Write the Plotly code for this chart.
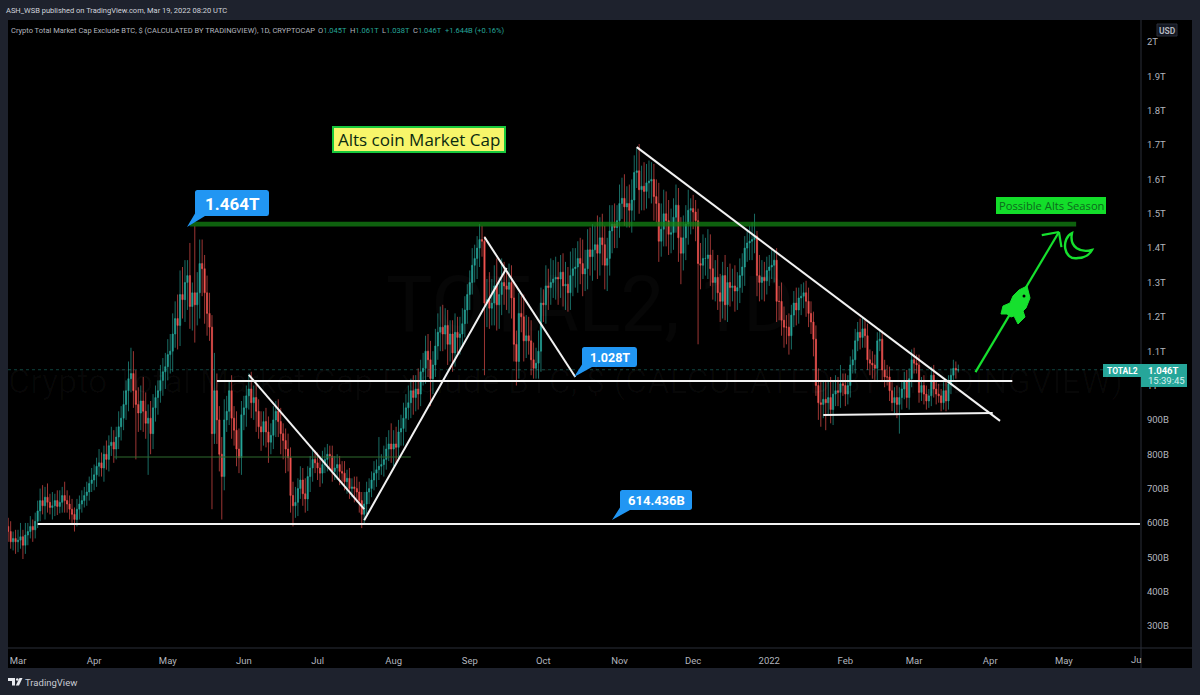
import pandas as pd
import plotly.graph_objects as go

# ---------- data (prices in billions of USD) ----------
first_open = 590
close_feb21 = [575,545,555]
close_mar21 = [545,550,560,535,565,575,590,580,605,635,665,650,675,660,645,650,665,648,660,680,665,655,640,625,610,640,655,665,680,690,715]
close_apr21 = [725,740,765,775,760,800,785,825,835,815,850,880,905,945,985,1020,1035,985,945,920,955,925,890,905,860,935,965,985,1015,1040]
close_may21 = [1055,1090,1100,1150,1195,1175,1265,1250,1300,1320,1230,1270,1235,1270,1355,1340,1270,1210,1170,860,985,900,800,735,900,925,985,905,870,815,790]
close_jun21 = [915,935,970,990,950,965,925,880,865,895,865,835,855,900,925,895,860,840,815,790,680,650,660,700,725,685,670,735,760,785]
close_jul21 = [775,760,745,770,785,800,795,750,760,770,750,745,720,730,700,705,700,690,665,625,655,690,700,725,745,755,765,770,785,815,830]
close_aug21 = [815,830,820,865,875,905,935,950,985,965,990,975,1040,1050,1100,1075,1020,1060,1115,1155,1170,1150,1175,1120,1150,1095,1155,1140,1150,1180,1220]
close_sep21 = [1265,1300,1350,1370,1400,1425,1420,1240,1250,1225,1240,1290,1235,1265,1300,1290,1280,1300,1255,1120,1070,1210,1200,1130,1145,1130,1075,1050,1065,1100]
close_oct21 = [1240,1235,1290,1285,1300,1310,1315,1310,1330,1290,1295,1270,1320,1340,1345,1370,1355,1325,1340,1395,1375,1395,1410,1385,1430,1410,1350,1370,1450,1470,1460]
close_nov21 = [1480,1530,1545,1520,1530,1510,1540,1620,1625,1570,1580,1565,1590,1595,1600,1550,1530,1420,1455,1500,1480,1440,1445,1490,1525,1430,1385,1430,1470,1510]
close_dec21 = [1515,1505,1480,1355,1350,1370,1370,1380,1340,1300,1315,1270,1245,1320,1235,1300,1285,1290,1275,1285,1320,1345,1400,1415,1420,1425,1435,1320,1300,1315,1305]
close_jan22 = [1335,1345,1350,1365,1245,1245,1190,1170,1170,1145,1205,1240,1220,1255,1260,1270,1245,1210,1185,1135,1000,950,945,960,950,965,930,975,985,980,1005]
close_feb22 = [1000,975,1000,1060,1075,1130,1155,1140,1165,1145,1075,1065,1060,1050,1130,1135,1045,1025,1025,985,950,965,945,965,990,1010,965,1020]
close_mar22 = [1075,1065,1060,980,1000,975,955,970,1030,990,975,970,950,985,955,1005,1030,1050,1045,1046]

upper_feb21 = [25,30,20]
upper_mar21 = [25,30,40,20,35,25,30,20,25,30,35,45,30,40,25,40,20,30,35,25,40,30,25,30,20,30,25,30,25,30,20]
upper_apr21 = [35,30,25,40,30,25,40,30,45,35,30,45,35,40,30,50,75,65,60,50,45,70,55,40,50,40,35,30,45,40]
upper_may21 = [40,45,50,60,50,70,70,80,65,45,95,30,194,60,70,70,40,50,60,35,110,50,40,50,60,45,30,45,35,55,60]
upper_jun21 = [40,35,30,45,50,35,40,35,45,30,40,45,35,40,30,35,40,30,35,45,30,40,45,30,40,35,45,30,35,30]
upper_jul21 = [25,30,35,40,35,30,25,30,35,30,25,30,35,25,30,25,30,35,30,25,35,30,30,25,35,30,85,30,40,35,40]
upper_aug21 = [60,40,50,35,40,45,40,50,35,45,40,60,35,45,45,50,55,40,50,55,60,65,50,45,40,40,55,45,50,45,40]
upper_sep21 = [30,35,50,40,35,45,40,15,60,80,70,60,80,50,70,60,50,55,50,45,40,60,50,65,60,55,60,50,45,60]
upper_oct21 = [45,40,60,50,70,55,60,45,50,55,65,50,70,60,55,50,60,70,55,60,65,75,55,85,60,70,55,60,75,55,60]
upper_nov21 = [45,55,60,70,50,55,60,50,65,78,60,70,55,60,50,45,50,60,75,70,65,60,70,55,60,50,60,65,55,60]
upper_dec21 = [30,40,35,35,60,70,60,75,60,55,50,65,55,40,60,45,55,50,60,45,50,40,35,40,45,50,65,15,60,50,45]
upper_jan22 = [40,35,45,30,35,45,55,40,35,40,30,35,45,30,35,30,35,40,35,30,40,50,60,55,50,45,60,35,45,40,55]
upper_feb22 = [30,35,30,25,30,35,30,40,35,30,35,30,35,30,25,30,25,30,35,30,25,30,35,30,25,30,35,30]
upper_mar22 = [30,35,25,30,25,30,25,20,25,30,25,30,20,25,30,25,20,25,20,15]

lower_feb21 = [30,20,25]
lower_mar21 = [35,30,25,40,25,30,20,35,25,20,30,25,40,30,20,35,30,25,20,30,35,25,30,25,35,20,30,25,20,30,25]
lower_apr21 = [25,30,35,30,25,40,30,35,30,40,30,35,40,35,45,60,40,50,160,55,50,60,45,150,60,45,40,50,35,45]
lower_may21 = [50,40,55,60,40,70,60,55,65,80,65,70,110,60,75,80,90,65,40,220,30,70,50,125,40,35,40,60,45,50,45]
lower_jun21 = [50,45,55,40,45,50,60,35,55,40,45,60,35,40,50,45,60,55,70,40,50,60,35,40,30,35,40,35,45,40]
lower_jul21 = [30,35,40,30,25,35,40,30,25,35,40,30,25,35,30,25,40,30,35,40,25,30,35,25,30,40,30,25,35,30,35]
lower_aug21 = [40,50,45,35,40,50,40,35,45,50,40,45,35,40,45,50,80,45,35,40,55,50,45,60,50,55,40,45,50,35,40]
lower_sep21 = [40,45,35,50,60,55,45,210,70,60,50,65,75,70,60,55,60,70,60,50,70,50,45,60,50,40,45,30,30,45]
lower_oct21 = [60,50,55,65,50,45,60,75,55,60,70,55,50,60,55,75,60,65,50,60,55,70,60,75,65,60,70,75,50,65,60]
lower_nov21 = [60,50,45,55,60,50,65,60,45,70,60,55,50,45,65,70,55,60,45,50,75,60,55,50,45,70,90,50,65,60]
lower_dec21 = [70,50,60,235,70,40,50,60,50,50,55,50,60,50,45,50,55,40,60,55,45,50,55,40,50,55,40,60,55,50,60]
lower_jan22 = [40,45,35,50,60,55,45,60,50,55,40,35,45,40,50,35,45,40,35,50,30,50,65,40,80,35,40,45,35,40,45]
lower_feb22 = [30,35,30,35,25,40,30,35,30,35,30,35,40,35,40,30,35,30,25,30,25,30,40,85,35,30,30,35]
lower_mar22 = [25,30,25,30,25,30,25,20,30,25,30,20,25,20,30,25,30,20,25,7]

closes = (close_feb21+close_mar21+close_apr21+close_may21+close_jun21+close_jul21+close_aug21
          +close_sep21+close_oct21+close_nov21+close_dec21+close_jan22+close_feb22+close_mar22)
upper = (upper_feb21+upper_mar21+upper_apr21+upper_may21+upper_jun21+upper_jul21+upper_aug21
         +upper_sep21+upper_oct21+upper_nov21+upper_dec21+upper_jan22+upper_feb22+upper_mar22)
lower = (lower_feb21+lower_mar21+lower_apr21+lower_may21+lower_jun21+lower_jul21+lower_aug21
         +lower_sep21+lower_oct21+lower_nov21+lower_dec21+lower_jan22+lower_feb22+lower_mar22)
assert len(closes) == len(upper) == len(lower), (len(closes), len(upper), len(lower))

last_date = "2022-03-19"
dates = pd.date_range(end=last_date, periods=len(closes), freq="D")
opens = [first_open] + closes[:-1]
highs = [max(o, c) + u for o, c, u in zip(opens, closes, upper)]
lows = [min(o, c) - l for o, c, l in zip(opens, closes, lower)]

month_ticks = ["2021-03-01","2021-04-01","2021-05-01","2021-06-01","2021-07-01","2021-08-01","2021-09-01",
               "2021-10-01","2021-11-01","2021-12-01","2022-01-01","2022-02-01","2022-03-01","2022-04-01","2022-05-01"]
month_labels = ["Mar","Apr","May","Jun","Jul","Aug","Sep","Oct","Nov","Dec","2022","Feb","Mar","Apr","May"]
price_ticks = [300,400,500,600,700,800,900,1000,1100,1200,1300,1400,1500,1600,1700,1800,1900,2000]
price_labels = ["300B","400B","500B","600B","700B","800B","900B","1T","1.1T","1.2T","1.3T","1.4T","1.5T","1.6T","1.7T","1.8T","1.9T","2T"]

# drawn trend lines: (date, price) pairs
white_lines = [
    (("2021-05-21",1013),("2022-04-10",1013)),
    (("2021-03-09",597),("2022-06-01",597)),
    (("2021-06-03",1031),("2021-07-20",640)),
    (("2021-07-20",608),("2021-09-16",1342)),
    (("2021-09-07",1432),("2021-10-14",1025)),
    (("2021-11-08",1694),("2022-04-05",897)),
    (("2022-01-23",914),("2022-04-02",920)),
]
thin_green_line = (("2021-04-09",792),("2021-08-08",792))
arrow_line = (("2022-03-26",1039),("2022-04-29",1447))
arrow_head = [("2022-04-22",1438),("2022-04-29",1447),("2022-04-30",1403)]
band = ("2021-05-10","2022-05-06",1463,1477)

# ---------- page geometry ----------
W, H = 1200, 695
L_, R_, T_, B_ = 8, 1141, 20, 648
FRAME = "#1e222d"
GREY = "#b2b5be"
TEAL = "#26a69a"
RED = "#ef5350"
BLUE = "#2196f3"
LIME = "#16e02e"
FONT = "Roboto"

def px(x): return (x - L_) / (R_ - L_)
def py(y): return (B_ - y) / (B_ - T_)
def poly(pts, close=True):
    s = "M " + " L ".join(f"{px(x):.5f},{py(y):.5f}" for x, y in pts)
    return s + (" Z" if close else "")

shapes, ann = [], []

def rect(x0, y0, x1, y1, fill, layer="above", line=None, lw=0):
    shapes.append(dict(type="rect", xref="paper", yref="paper", x0=px(x0), x1=px(x1), y0=py(y1), y1=py(y0),
                       fillcolor=fill, line=dict(width=lw, color=line or fill), layer=layer))

def text(x, y, s, size=10, color=GREY, anchor="left", font=FONT, bold=False, bg=None):
    if bold:
        s = f"<b>{s}</b>"
    ann.append(dict(xref="paper", yref="paper", x=px(x), y=py(y), text=s, showarrow=False, xanchor=anchor,
                    yanchor="middle", font=dict(size=size, color=color, family=font),
                    borderpad=0, borderwidth=0, bgcolor=bg or "rgba(0,0,0,0)"))

def callout(x0, y0, x1, y1, tip, base_l, base_r, label, size):
    r = 2.5
    f = lambda a, b: f"{px(a):.5f},{py(b):.5f}"
    d = (f"M {f(x0+r,y0)} L {f(x1-r,y0)} Q {f(x1,y0)} {f(x1,y0+r)} L {f(x1,y1-r)} Q {f(x1,y1)} {f(x1-r,y1)} "
         f"L {f(base_r,y1)} L {f(*tip)} L {f(base_l,y1-r)} L {f(x0,y0+r)} Q {f(x0,y0)} {f(x0+r,y0)} Z")
    shapes.append(dict(type="path", xref="paper", yref="paper", path=d, fillcolor=BLUE, line=dict(width=0), layer="above"))
    text((x0 + x1) / 2, (y0 + y1) / 2 + 0.5, label, size=size, color="#ffffff", anchor="center", bold=True)

# panels
rect(L_, T_, 1192, 668, "#000000", layer="below")
shapes.append(dict(type="line", xref="paper", yref="paper", x0=px(R_), x1=px(R_), y0=py(T_), y1=py(668),
                   line=dict(color="#2a2e39", width=1), layer="above"))
shapes.append(dict(type="line", xref="paper", yref="paper", x0=px(L_), x1=px(1192), y0=py(B_), y1=py(B_),
                   line=dict(color="#2a2e39", width=1), layer="above"))

# watermark
text(590, 304, "TOTAL2, 1D", size=78, color="rgba(255,255,255,0.025)", anchor="center")
text(8, 381, "Crypto Total Market Cap Exclude BTC, $ (CALCULATED BY TRADINGVIEW)", size=34,
     color="rgba(255,255,255,0.028)")

# last-price dotted line
shapes.append(dict(type="line", xref="paper", yref="y", x0=0, x1=1, y0=closes[-1], y1=closes[-1],
                   line=dict(color="rgba(38,166,154,0.4)", width=1, dash="dot"), layer="above"))

# green band and lines
shapes.append(dict(type="rect", xref="x", yref="y", x0=band[0], x1=band[1], y0=band[2], y1=band[3],
                   fillcolor="rgba(20,135,20,0.72)", line=dict(width=0), layer="above"))
shapes.append(dict(type="line", xref="x", yref="y", x0=thin_green_line[0][0], x1=thin_green_line[1][0],
                   y0=thin_green_line[0][1], y1=thin_green_line[1][1],
                   line=dict(color="#2f6b2f", width=1.2), layer="above"))
for (a, b) in white_lines:
    shapes.append(dict(type="line", xref="x", yref="y", x0=a[0], x1=b[0], y0=a[1], y1=b[1],
                       line=dict(color="#f2f2f2", width=2), layer="above"))
shapes.append(dict(type="line", xref="x", yref="y", x0=arrow_line[0][0], x1=arrow_line[1][0],
                   y0=arrow_line[0][1], y1=arrow_line[1][1], line=dict(color=LIME, width=2.2), layer="above"))
for a, b in zip(arrow_head[:-1], arrow_head[1:]):
    shapes.append(dict(type="line", xref="x", yref="y", x0=a[0], x1=b[0], y0=a[1], y1=b[1],
                       line=dict(color=LIME, width=2.2), layer="above"))

# rocket
rocket = [(1027,286),(1030,298),(1026,308),(1023,311),(1025,317),(1018,324),(1014,316),(1011,317),(1007,314),
          (1001,314),(1003,306),(1010,303),(1013,296),(1019,290)]
shapes.append(dict(type="path", xref="paper", yref="paper", path=poly(rocket), fillcolor=LIME, line=dict(color=LIME, width=1), layer="above"))
shapes.append(dict(type="circle", xref="paper", yref="paper", x0=px(1022.5), x1=px(1025.5), y0=py(297.5), y1=py(294.5),
                   fillcolor="#000000", line=dict(width=0), layer="above"))
# moon
f_ = lambda a, b: f"{px(a):.5f},{py(b):.5f}"
moon = (f"M {f_(1072,233)} C {f_(1061,238)} {f_(1063,261)} {f_(1078,258)} C {f_(1085,258)} {f_(1090,254)} {f_(1092,250)} "
        f"C {f_(1081,253)} {f_(1069,248)} {f_(1072,233)} Z")
shapes.append(dict(type="path", xref="paper", yref="paper", path=moon, fillcolor="rgba(0,0,0,0)", line=dict(color=LIME, width=2.4), layer="above"))

# callouts
callout(195, 190, 269, 216, (187, 227), 195, 205, "1.464T", 17)
callout(582, 347, 637, 367, (574, 377), 582, 592, "1.028T", 12.5)
callout(620, 490, 692, 510, (612, 520), 620, 630, "614.436B", 13)

# note boxes
rect(333, 127, 505, 152, "#f7f56a", line="#19c83c", lw=2)
text(419, 139.5, "Alts coin Market Cap", size=17, color="#0a2a10", anchor="center", font="Open Sans")
rect(996, 197, 1106, 214, "#13dd2a")
text(1051, 205.5, "Possible Alts Season", size=11.2, color="#0c6a1c", anchor="center", font="Open Sans")

# price labels
rect(1103, 364, 1141, 377, TEAL)
text(1122, 370.5, "TOTAL2", size=8.5, color="#ffffff", anchor="center", bold=True)
rect(1141, 364, 1187, 387, TEAL)
text(1148, 370, "1.046T", size=9.5, color="#ffffff", bold=True)
text(1148, 381, "15:39:45", size=9.5, color="#d8f0ee")

# USD badge
shapes.append(dict(type="rect", xref="paper", yref="paper", x0=px(1157), x1=px(1177), y0=py(36), y1=py(24),
                   fillcolor="#131722", line=dict(color="#2a2e39", width=1), layer="above"))
text(1167, 30.5, "USD", size=8.5, color=GREY, anchor="center", bold=True)

# header and legend
text(6, 11, "ASH_WSB published on TradingView.com, Mar 19, 2022 08:20 UTC", size=7.5, color="#d1d4dc")
text(11, 30.5, "Crypto Total Market Cap Exclude BTC, $ (CALCULATED BY TRADINGVIEW), 1D, CRYPTOCAP", size=7.5, color=GREY)
legend_parts = [(318,"O","1.045T"),(350,"H","1.061T"),(382,"L","1.038T"),(413,"C","1.046T")]
for x, k, v in legend_parts:
    text(x, 30.5, f"<span style='color:{GREY}'>{k}</span>{v}", size=7.5, color=TEAL)
text(445, 30.5, "+1.644B (+0.16%)", size=7.5, color=TEAL)

# clipped last axis label
text(1141, 659, "Ju", size=9.5, color=GREY, anchor="right")

# TradingView logo
shapes.append(dict(type="path", xref="paper", yref="paper",
                   path=poly([(8,678),(15,678),(15,685.5),(12,685.5),(12,681),(8,681)]),
                   fillcolor="#e8eaef", line=dict(width=0), layer="above"))
shapes.append(dict(type="circle", xref="paper", yref="paper", x0=px(16), x1=px(18.6), y0=py(680.8), y1=py(678.2),
                   fillcolor="#e8eaef", line=dict(width=0), layer="above"))
shapes.append(dict(type="path", xref="paper", yref="paper",
                   path=poly([(19.5,678),(22.5,678),(19,685.5),(15.8,685.5)]),
                   fillcolor="#e8eaef", line=dict(width=0), layer="above"))
text(25, 682, "TradingView", size=9.5, color="#c8cbd3")

fig = go.Figure(go.Candlestick(
    x=dates, open=opens, high=highs, low=lows, close=closes,
    increasing=dict(line=dict(color="rgba(38,166,154,0.65)", width=1), fillcolor=TEAL),
    decreasing=dict(line=dict(color="rgba(239,83,80,0.65)", width=1), fillcolor=RED),
    whiskerwidth=0, showlegend=False, hoverinfo="skip",
))
fig.update_layout(
    width=W, height=H, autosize=False,
    margin=dict(l=L_, r=W - R_, t=T_, b=H - B_, pad=0),
    paper_bgcolor=FRAME, plot_bgcolor="#000000",
    font=dict(family=FONT, color=GREY, size=10),
    shapes=shapes, annotations=ann, showlegend=False,
    xaxis=dict(type="date", range=["2021-02-24 22:00", "2022-06-01 10:00"], rangeslider=dict(visible=False),
               showgrid=False, zeroline=False, showline=False, tickmode="array", tickvals=month_ticks,
               ticktext=month_labels, tickfont=dict(size=9.5, color=GREY), ticks="outside", ticklen=4,
               tickcolor="rgba(0,0,0,0)", tickangle=0),
    yaxis=dict(side="right", range=[236, 2064], showgrid=False, zeroline=False, showline=False,
               tickmode="array", tickvals=price_ticks, ticktext=price_labels,
               tickfont=dict(size=9.5, color=GREY), ticks="outside", ticklen=3, tickcolor="rgba(0,0,0,0)"),
)
fig.write_html("out.html", config=dict(displayModeBar=False),
               post_script="document.body.style.margin='0';document.body.style.overflow='hidden';")
